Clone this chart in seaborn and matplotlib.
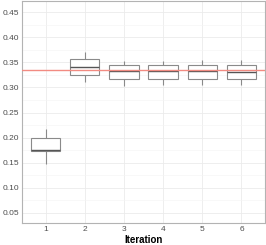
import matplotlib
matplotlib.use('Agg')
import matplotlib.pyplot as plt
from matplotlib.ticker import MultipleLocator
import pandas as pd
import seaborn as sns

# ----------- data (five-number summary per iteration) -----------
iterations = ['1', '2', '3', '4', '5', '6']
lower_whisker = [0.148, 0.311, 0.303, 0.304, 0.304, 0.304]
q1 = [0.173, 0.324, 0.317, 0.317, 0.317, 0.317]
median = [0.175, 0.340, 0.3335, 0.333, 0.3335, 0.331]
q3 = [0.199, 0.356, 0.344, 0.345, 0.345, 0.345]
upper_whisker = [0.217, 0.370, 0.353, 0.353, 0.355, 0.354]
reference_value = 0.334

rows = []
for i, it in enumerate(iterations):
    for v in (lower_whisker[i], q1[i], median[i], q3[i], upper_whisker[i]):
        rows.append({'Iteration': it, 'value': v})
df = pd.DataFrame(rows)

sns.set_style('white')
plt.rcParams['font.family'] = ['Liberation Sans', 'DejaVu Sans']

fig = plt.figure(figsize=(2.66, 2.45), dpi=100)
ax = fig.add_axes([22 / 266, 22 / 245, 243 / 266, 222 / 245])

sns.boxplot(data=df, x='Iteration', y='value', ax=ax, width=0.75, whis=1.5,
            color='white', linecolor='#8a8a8a', linewidth=0.8, showcaps=False,
            medianprops={'color': '#555555', 'linewidth': 1.0}, fliersize=0)

ax.axhline(reference_value, color='#f28b82', linewidth=1.0, zorder=5)

ax.set_xlim(-0.6, 5.6)
ax.set_ylim(0.030, 0.472)
ax.yaxis.set_major_locator(MultipleLocator(0.05))
ax.yaxis.set_minor_locator(MultipleLocator(0.025))
ax.set_yticks([0.05, 0.10, 0.15, 0.20, 0.25, 0.30, 0.35, 0.40, 0.45])
ax.set_yticklabels(['0.05', '0.10', '0.15', '0.20', '0.25', '0.30', '0.35', '0.40', '0.45'])

ax.grid(True, which='major', color='#ebebeb', linewidth=0.6)
ax.grid(True, which='minor', axis='y', color='#f4f4f4', linewidth=0.4)
ax.set_axisbelow(True)

for s in ax.spines.values():
    s.set_visible(True)
    s.set_color('#b3b3b3')
    s.set_linewidth(0.8)

ax.tick_params(axis='both', which='major', labelsize=6, colors='#b3b3b3',
               labelcolor='#4d4d4d', length=1.5, width=0.5, pad=0.8)
ax.tick_params(axis='y', which='minor', length=0)

ax.set_xlabel('Iteration', fontsize=7, fontweight='bold', color='black', labelpad=1)
ax.set_ylabel('')

fig.savefig('out.png', dpi=100)
